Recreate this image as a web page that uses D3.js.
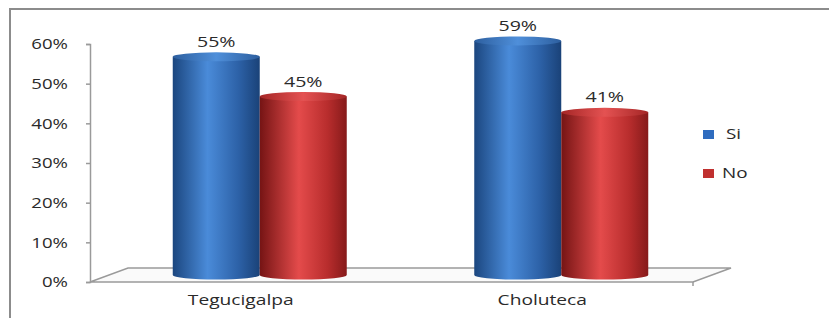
<!DOCTYPE html>
<html>
<head>
<meta charset="utf-8">
<script src="https://cdn.jsdelivr.net/npm/d3@7"></script>
<style>
  body { margin: 0; background: #fff; }
  text { font-family: "Open Sans", sans-serif; fill: #2a2a2a; }
</style>
</head>
<body>
<script>
// data
const categories = ["Tegucigalpa", "Choluteca"];
const seriesNames = ["Si", "No"];
const siValues = [0.55, 0.59];
const noValues = [0.45, 0.41];
const yTicks = [0, 0.1, 0.2, 0.3, 0.4, 0.5, 0.6];

const W = 829, H = 318;
const depthX = 38, depthY = -14; // floor depth

const svg = d3.select("body").append("svg")
  .attr("width", W).attr("height", H);

const defs = svg.append("defs");
function grad(id, stops) {
  const g = defs.append("linearGradient").attr("id", id)
    .attr("x1", "0%").attr("x2", "100%").attr("y1", "0%").attr("y2", "0%");
  stops.forEach(s => g.append("stop").attr("offset", s[0]).attr("stop-color", s[1]));
}
grad("blueBody", [["0%", "#1b467f"], ["40%", "#4a8bd9"], ["75%", "#2d62a8"], ["100%", "#1a4278"]]);
grad("redBody", [["0%", "#751414"], ["45%", "#e44b4b"], ["78%", "#b82d2d"], ["100%", "#861a1a"]]);
grad("blueTop", [["0%", "#2d5f9f"], ["50%", "#4f8fda"], ["100%", "#2d5f9f"]]);
grad("redTop", [["0%", "#a52626"], ["50%", "#e45252"], ["100%", "#a52626"]]);

const bodyFill = { Si: "url(#blueBody)", No: "url(#redBody)" };
const topFill = { Si: "url(#blueTop)", No: "url(#redTop)" };
const legendColor = { Si: "#2f6cbf", No: "#c0302f" };

// frame
svg.append("path")
  .attr("d", `M10,${H} L10,9 L${W},9`)
  .attr("fill", "none").attr("stroke", "#8c8c8c").attr("stroke-width", 2);

// scales
const x = d3.scaleBand().domain(categories).range([90, 693]);
const xs = d3.scaleBand().domain(seriesNames).range([0, 174]);
const y = d3.scaleLinear().domain([0, 0.6]).range([282, 44]);

// floor
const y0 = y(0);
svg.append("path")
  .attr("d", `M90,${y0} L${x.range()[1]},${y0} L${x.range()[1] + depthX},${y0 + depthY} L${90 + depthX},${y0 + depthY} Z`)
  .attr("fill", "#fafafa").attr("stroke", "#9a9a9a").attr("stroke-width", 1.5);

// y axis
const yAxis = svg.append("g").attr("transform", "translate(90,0)")
  .call(d3.axisLeft(y).tickValues(yTicks).tickSize(4).tickFormat(d3.format(".0%")));
yAxis.select(".domain").attr("stroke", "#9a9a9a").attr("stroke-width", 1.5);
yAxis.selectAll(".tick line").attr("stroke", "#9a9a9a").attr("stroke-width", 1.5);
yAxis.selectAll(".tick text")
  .attr("font-size", 14).attr("fill", "#2a2a2a")
  .attr("x", 0).attr("dy", "0.35em").attr("text-anchor", "end")
  .attr("transform", "translate(-22,0) scale(1.33,1)");

// x tick on floor front edge
svg.append("g").selectAll("line")
  .data([x.range()[1]])
  .join("line")
  .attr("x1", d => d).attr("x2", d => d)
  .attr("y1", y0).attr("y2", y0 + 4)
  .attr("stroke", "#9a9a9a").attr("stroke-width", 1.5);

// category labels
svg.append("g").selectAll("text")
  .data(categories)
  .join("text")
  .attr("transform", d => `translate(${x(d) + x.bandwidth() / 2},${y0 + 23}) scale(1.37,1)`)
  .attr("text-anchor", "middle")
  .attr("font-size", 14)
  .text(d => d);

// cylinders
const rows = [];
categories.forEach((c, i) => {
  rows.push({ cat: c, s: "Si", v: siValues[i] });
  rows.push({ cat: c, s: "No", v: noValues[i] });
});

const ry = 4.5;
const bars = svg.append("g").selectAll("g")
  .data(rows)
  .join("g")
  .attr("transform", d => {
    const left = x(d.cat) + (x.bandwidth() - xs.range()[1]) / 2 + depthX / 2 + xs(d.s);
    return `translate(${left},${depthY / 2})`;
  });

bars.append("path")
  .attr("d", d => {
    const w = xs.bandwidth(), rx = w / 2;
    const top = y(d.v), base = y(0);
    return `M0,${top} L0,${base} A${rx},${ry} 0 0 0 ${w},${base} L${w},${top} Z`;
  })
  .attr("fill", d => bodyFill[d.s]);

bars.append("ellipse")
  .attr("cx", xs.bandwidth() / 2)
  .attr("cy", d => y(d.v))
  .attr("rx", xs.bandwidth() / 2)
  .attr("ry", ry)
  .attr("fill", d => topFill[d.s]);

// value labels
bars.append("text")
  .attr("transform", d => `translate(${xs.bandwidth() / 2},${y(d.v) - 10}) scale(1.4,1)`)
  .attr("text-anchor", "middle")
  .attr("font-size", 14)
  .text(d => d3.format(".0%")(d.v));

// legend
const legend = svg.append("g").attr("transform", "translate(703,134)");
const li = legend.selectAll("g")
  .data(seriesNames)
  .join("g")
  .attr("transform", (d, i) => `translate(0,${i * 39})`);
li.append("rect")
  .attr("x", 0).attr("y", -4).attr("width", 11).attr("height", 9)
  .attr("fill", d => legendColor[d]);
li.append("text")
  .attr("transform", (d, i) => `translate(${i === 0 ? 23 : 19},0) scale(1.35,1)`)
  .attr("dy", "0.35em")
  .attr("font-size", 14)
  .text(d => d);
</script>
</body>
</html>
